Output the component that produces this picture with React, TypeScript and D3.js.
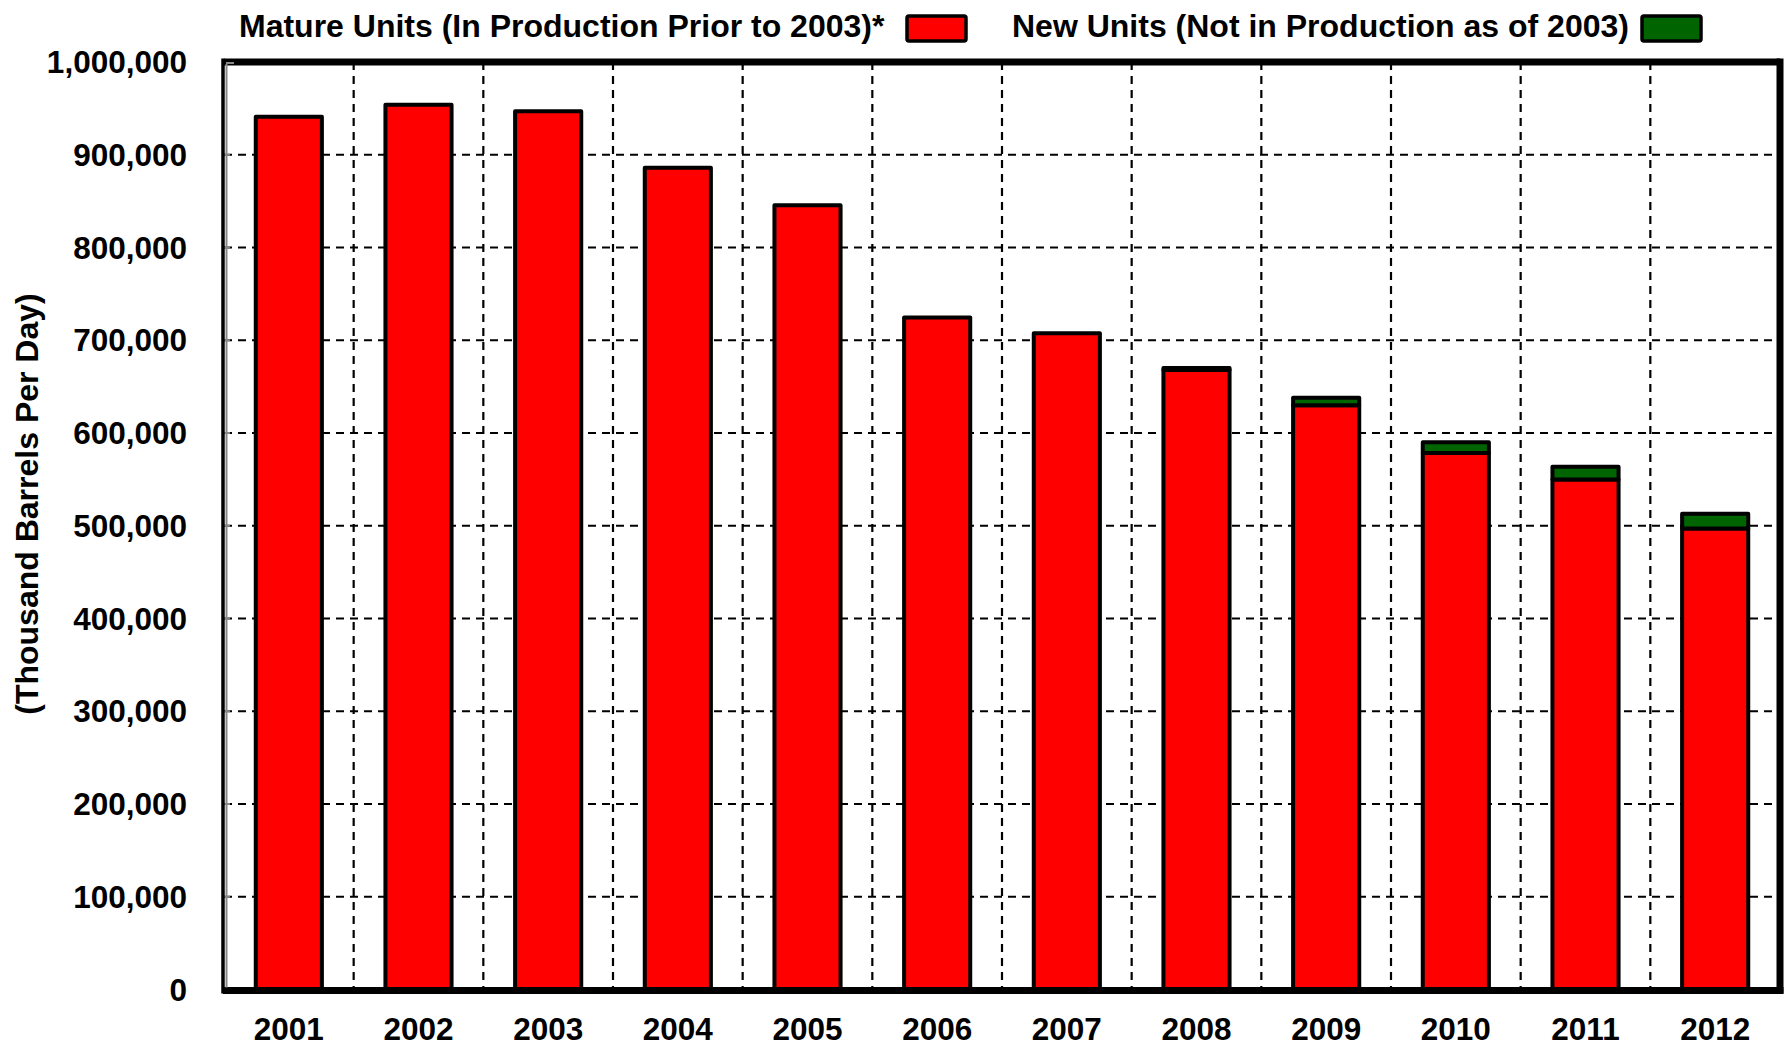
import React from "react";
import * as d3 from "d3";

const years = ["2001","2002","2003","2004","2005","2006","2007","2008","2009","2010","2011","2012"];
const matureUnits = [941000, 954000, 947000, 886000, 845500, 724500, 707500, 668000, 630000, 578500, 550000, 497000];
const newUnits = [0, 0, 0, 0, 0, 0, 0, 2000, 8000, 11500, 13500, 16000];
const yTicks = [0, 100000, 200000, 300000, 400000, 500000, 600000, 700000, 800000, 900000, 1000000];
const legendLabels = ["Mature Units (In Production Prior to 2003)*", "New Units (Not in Production as of 2003)"];
const yTitle = "(Thousand Barrels Per Day)";

const W = 1787, H = 1052;
const L = 224, R = 1780, T = 62, B = 989.5;
const RED = "#ff0000", GREEN = "#006400";
const FONT = "'Liberation Sans', Arial, Helvetica, sans-serif";

export default function App() {
  const x = d3.scaleBand<string>().domain(years).range([L, R]).paddingInner(0).paddingOuter(0);
  const y = d3.scaleLinear().domain([0, 1000000]).range([B, T]);
  const fmt = d3.format(",");
  const bw = x.bandwidth() * 0.51;
  return (
    <svg width={W} height={H} style={{ position: "absolute", left: 0, top: 0, background: "#fff" }} fontFamily={FONT}>
      <rect x={0} y={0} width={W} height={H} fill="#fff" />
      {/* horizontal grid */}
      {yTicks.slice(1, -1).map(t => (
        <line key={"h" + t} x1={L} x2={R} y1={y(t)} y2={y(t)} stroke="#000" strokeWidth={2.2} strokeDasharray="8,6" />
      ))}
      {/* vertical grid */}
      {years.slice(1).map(yr => (
        <line key={"v" + yr} x1={x(yr)!} x2={x(yr)!} y1={T} y2={B} stroke="#000" strokeWidth={2.2} strokeDasharray="8,6" />
      ))}
      {/* left axis small grey ticks */}
      {yTicks.slice(1, -1).map(t => (
        <line key={"gt" + t} x1={L} x2={L + 6} y1={y(t)} y2={y(t)} stroke="#888" strokeWidth={2} />
      ))}
      {/* bars */}
      {years.map((yr, i) => {
        const cx = x(yr)! + x.bandwidth() / 2;
        const m = matureUnits[i];
        const n = newUnits[i];
        return (
          <g key={yr}>
            <rect x={cx - bw / 2} y={y(m)} width={bw} height={B - y(m)} fill={RED} stroke="#000" strokeWidth={4} strokeLinejoin="round" />
            {n > 0 && (
              <rect x={cx - bw / 2} y={y(m + n)} width={bw} height={y(m) - y(m + n)} fill={GREEN} stroke="#000" strokeWidth={4} strokeLinejoin="round" />
            )}
          </g>
        );
      })}
      {/* frame */}
      <line x1={L} x2={R} y1={T} y2={T} stroke="#000" strokeWidth={7} />
      <line x1={R} x2={R} y1={T - 3.5} y2={B + 4} stroke="#000" strokeWidth={7} />
      <line x1={L - 1} x2={R + 3.5} y1={B + 1} y2={B + 1} stroke="#000" strokeWidth={7} />
      <line x1={L - 1} x2={L - 1} y1={T - 3.5} y2={B + 4} stroke="#000" strokeWidth={3.5} />
      <line x1={L + 2.5} x2={L + 2.5} y1={T + 2} y2={B - 2} stroke="#888" strokeWidth={2} />
      <line x1={L + 2} x2={L + 10} y1={T + 1} y2={T + 1} stroke="#888" strokeWidth={2} />
      {/* y tick labels */}
      {yTicks.map(t => (
        <text key={"yl" + t} x={187} y={y(t)} textAnchor="end" dominantBaseline="central" fontSize={31.5} fontWeight="bold" fill="#000">
          {fmt(t)}
        </text>
      ))}
      {/* x tick labels */}
      {years.map(yr => (
        <text key={"xl" + yr} x={x(yr)! + x.bandwidth() / 2} y={1040} textAnchor="middle" fontSize={31.5} fontWeight="bold" fill="#000">
          {yr}
        </text>
      ))}
      {/* y title */}
      <text transform={`translate(38,504) rotate(-90)`} textAnchor="middle" fontSize={32} fontWeight="bold" fill="#000">
        {yTitle}
      </text>
      {/* legend */}
      <text x={239} y={37} fontSize={32} fontWeight="bold" fill="#000">{legendLabels[0]}</text>
      <rect x={907} y={16} width={59} height={25} rx={2} fill={RED} stroke="#000" strokeWidth={3.5} />
      <text x={1012} y={37} fontSize={32} fontWeight="bold" fill="#000">{legendLabels[1]}</text>
      <rect x={1642} y={16} width={59} height={25} rx={2} fill={GREEN} stroke="#000" strokeWidth={3.5} />
    </svg>
  );
}
